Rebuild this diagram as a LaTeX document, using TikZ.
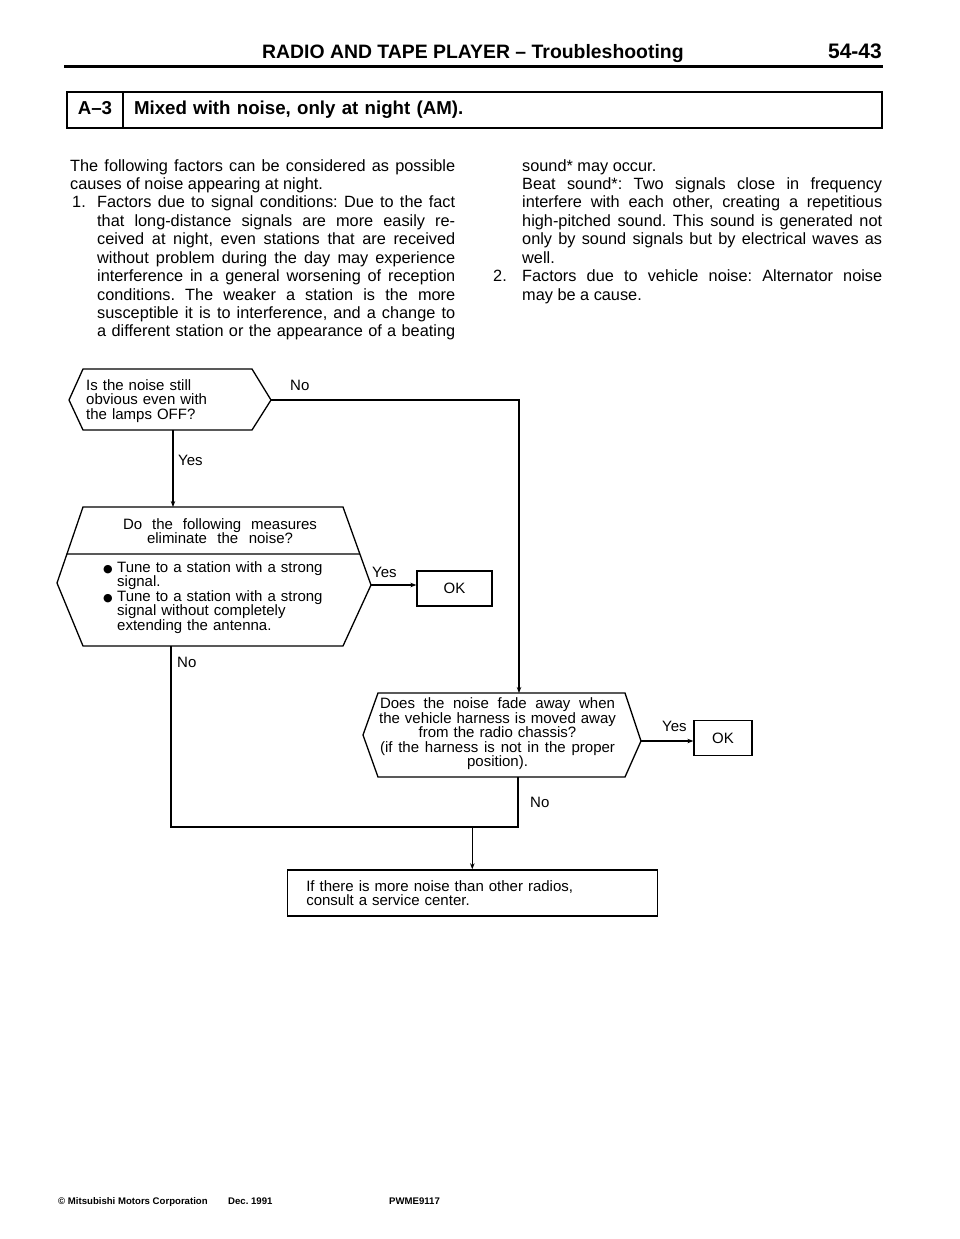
\documentclass[tikz,border=0pt]{standalone}
\usepackage{fontspec}
\setmainfont{Liberation Sans}
\newfontfamily\symfont{DejaVu Sans}
\usetikzlibrary{calc, positioning}
\usetikzlibrary{arrows.meta}

\tolerance=10000
\hyphenpenalty=10000
\exhyphenpenalty=10000
\frenchspacing

\newcommand{\bodysize}{\fontsize{16.3}{18.43}\selectfont}
\newcommand{\chartsize}{\fontsize{15}{14.6}\selectfont}
\newcommand{\blob}{\makebox[14pt][l]{\symfont\fontsize{11}{11}\selectfont ●}}
% a line spread out to a given width
\newcommand{\spread}[2]{\makebox[#1][s]{\spaceskip=0.28em plus 1fil\relax #2}}

\begin{document}
\begin{tikzpicture}[x=1pt, y=-1pt,
  body/.style={font=\bodysize, inner sep=0pt, anchor=base west},
  chart/.style={font=\chartsize, inner sep=0pt},
  foot/.style={font=\fontsize{9.6}{9.6}\selectfont\bfseries, inner sep=0pt, anchor=base west},
  outline/.style={line width=1.3pt, line join=miter},
  flow/.style={line width=1.3pt},
  arr/.style={flow, -{Stealth[length=6pt, width=4.5pt]}},
  cell/.style={draw, line width=1.6pt, outer sep=0pt, inner sep=0pt,
    font=\fontsize{18.7}{18.7}\selectfont\bfseries,
    text height=13.4pt, text depth=3.9pt, minimum height=36pt},
  okbox/.style={draw, line width=1.3pt, font=\chartsize, minimum height=35pt, inner sep=0pt}]

\fill[white] (0,0) rectangle (960,1239);
\useasboundingbox (0,0) rectangle (960,1239);

% Page header
\node[font=\fontsize{19.4}{19.4}\selectfont\bfseries, inner sep=0pt, anchor=base west] (header) at (262,59) {RADIO AND TAPE PLAYER – Troubleshooting};
\node[font=\fontsize{21}{21}\selectfont\bfseries, inner sep=0pt, anchor=base east] (page-no) at (882,59) {54-43};
\draw[line width=3pt] (64,67) -- (883,67);

% Symptom box
\node[cell, minimum width=56pt, anchor=north west] (code) at (67,92) {A–3};
\node[cell, minimum width=759pt, right=0pt of code, text width=737pt, inner xsep=11pt, align=left] (issue) {Mixed with noise, only at night (AM).};

% Explanation, left column
\node[body, text width=385pt, align=justify] (intro) at (70,171) {The following factors can be considered as possible\linebreak causes of noise appearing at night.};
\node[body] (n1) at (72,207.9) {1.};
\node[body, text width=358pt, align=justify] (item1) at (97,207.9) {Factors due to signal conditions: Due to the fact\linebreak that long-distance signals are more easily re-\linebreak ceived at night, even stations that are received\linebreak without problem during the day may experience\linebreak interference in a general worsening of reception\linebreak conditions. The weaker a station is the more\linebreak susceptible it is to interference, and a change to\linebreak \spread{358pt}{a different station or the appearance of a beating}};

% Explanation, right column
\node[body, text width=360pt, align=justify] (item1b) at (522,171) {sound* may occur.\par Beat sound*: Two signals close in frequency\linebreak interfere with each other, creating a repetitious\linebreak high-pitched sound. This sound is generated not\linebreak only by sound signals but by electrical waves as\linebreak well.};
\node[body] (n2) at (493,281.6) {2.};
\node[body, text width=360pt, align=justify] (item2) at (522,281.6) {Factors due to vehicle noise: Alternator noise\linebreak may be a cause.};

% First question
\coordinate (q1-w)  at (69,400);
\coordinate (q1-nw) at (83,369);
\coordinate (q1-ne) at (252,369);
\coordinate (q1-e)  at (271,400);
\coordinate (q1-se) at (252,430);
\coordinate (q1-sw) at (83,430);
\coordinate (q1-s)  at (173,430);
\draw[outline] (q1-w) -- (q1-nw) -- (q1-ne) -- (q1-e) -- (q1-se) -- (q1-sw) -- cycle;
\node[chart, anchor=base west, text width=170pt, align=left] (q1) at (86,390) {Is the noise still\\obvious even with\\the lamps OFF?};

% Second question, with the measures below the divider
\coordinate (q2-nw) at (83,507);
\coordinate (q2-w)  at (57,583);
\coordinate (q2-sw) at (83,646);
\coordinate (q2-se) at (343,646);
\coordinate (q2-e)  at (371,585);
\coordinate (q2-ne) at (343,507);
\coordinate (q2-n)  at (173,507);
\coordinate (q2-s)  at (171,646);
\draw[outline] (q2-w) -- (q2-nw) -- (q2-ne) -- (q2-e) -- (q2-se) -- (q2-sw) -- cycle;
\draw[outline] ($(q2-nw)!0.618!(q2-w)$) -- ($(q2-ne)!0.603!(q2-e)$);
\node[chart, anchor=base, text width=200pt, align=center] (q2) at (220,529) {\spread{194pt}{Do the following measures}\\\spread{146pt}{eliminate the noise?}};
\node[chart, anchor=base west, text width=250pt, align=left] (q2-list) at (103,572) {\blob Tune to a station with a strong\\\hspace*{14pt}signal.\\\blob Tune to a station with a strong\\\hspace*{14pt}signal without completely\\\hspace*{14pt}extending the antenna.};

% Third question
\coordinate (q3-nw) at (378,693);
\coordinate (q3-w)  at (363,735);
\coordinate (q3-sw) at (378,777);
\coordinate (q3-se) at (625,777);
\coordinate (q3-e)  at (641,741);
\coordinate (q3-ne) at (625,693);
\coordinate (q3-n)  at (519,693);
\coordinate (q3-s)  at (518,777);
\draw[outline] (q3-w) -- (q3-nw) -- (q3-ne) -- (q3-e) -- (q3-se) -- (q3-sw) -- cycle;
\node[chart, anchor=base, text width=240pt, align=center] (q3) at (497.5,708.5) {\spread{235pt}{Does the noise fade away when}\\the vehicle harness is moved away\\from the radio chassis?\\\spread{235pt}{(if the harness is not in the proper}\\position).};

% Results
\node[okbox, minimum width=75pt] (ok1) at (454.5,588.5) {OK};
\node[okbox, minimum width=58pt] (ok2) at (723,738) {OK};
\node[draw, line width=1.5pt, chart, inner xsep=19pt, text width=332pt, minimum height=46pt, align=left] (advice) at (472.3,893) {If there is more noise than other radios,\\consult a service center.};

% Connectors
\coordinate (merge) at (518,827);
\draw[arr] (q1-e) -| (q3-n);
\draw[arr] (q1-s) -- (q2-n);
\draw[arr] (q2-e) -- (q2-e -| ok1.west);
\draw[flow] (q2-s) |- (merge) -- (q3-s);
\draw[arr] (q3-e) -- (q3-e -| ok2.west);
\draw[arr] (advice.north |- merge) -- (advice.north);

% Branch labels
\node[chart, anchor=base west] (q1-no)  at (290,390) {No};
\node[chart, anchor=base west] (q1-yes) at (178,465) {Yes};
\node[chart, anchor=base west] (q2-yes) at (372,577) {Yes};
\node[chart, anchor=base west] (q2-no)  at (177,667) {No};
\node[chart, anchor=base west] (q3-yes) at (662,731) {Yes};
\node[chart, anchor=base west] (q3-no)  at (530,807) {No};

% Footer
\node[foot] (maker) at (58,1204) {© Mitsubishi Motors Corporation};
\node[foot] (date) at (228,1204) {Dec. 1991};
\node[foot] (doc-no) at (389,1204) {PWME9117};
\end{tikzpicture}
\end{document}
